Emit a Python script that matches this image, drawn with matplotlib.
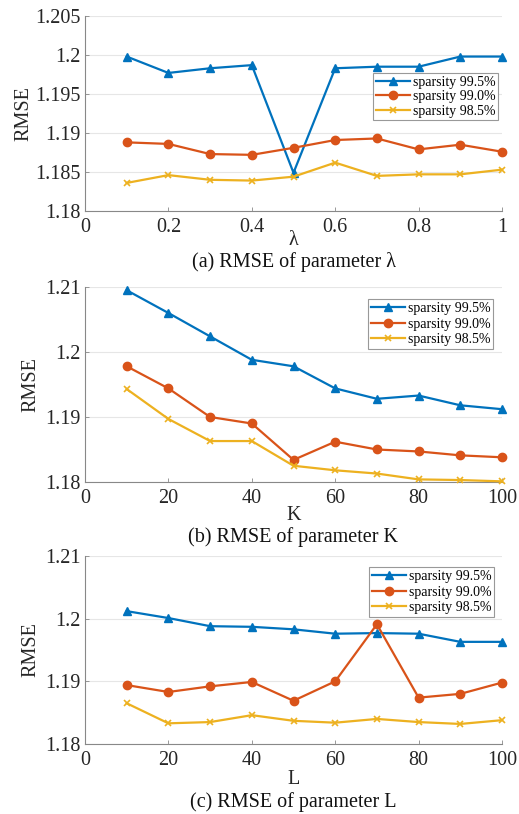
import matplotlib
matplotlib.use("Agg")
import matplotlib.pyplot as plt

plt.rcParams['font.family'] = ['Liberation Serif', 'DejaVu Serif']

labels = ['sparsity 99.5%', 'sparsity 99.0%', 'sparsity 98.5%']

lam = [0.1, 0.2, 0.3, 0.4, 0.5, 0.6, 0.7, 0.8, 0.9, 1.0]
lam_995 = [1.1998, 1.1977, 1.1983, 1.1987, 1.1849, 1.1983, 1.1985, 1.1985, 1.1998, 1.1998]
lam_990 = [1.1888, 1.1886, 1.1873, 1.1872, 1.1881, 1.1891, 1.1893, 1.1879, 1.1885, 1.1876]
lam_985 = [1.1836, 1.1846, 1.1840, 1.1839, 1.1844, 1.1862, 1.1845, 1.1847, 1.1847, 1.1853]

K = [10, 20, 30, 40, 50, 60, 70, 80, 90, 100]
K_995 = [1.2095, 1.2060, 1.2024, 1.1988, 1.1978, 1.1944, 1.1928, 1.1933, 1.1918, 1.1912]
K_990 = [1.1978, 1.1944, 1.1900, 1.1890, 1.1834, 1.1862, 1.1850, 1.1847, 1.1841, 1.1838]
K_985 = [1.1943, 1.1897, 1.1863, 1.1863, 1.1825, 1.1818, 1.1813, 1.1804, 1.1803, 1.1801]

L = [10, 20, 30, 40, 50, 60, 70, 80, 90, 100]
L_995 = [1.2012, 1.2001, 1.1988, 1.1987, 1.1983, 1.1976, 1.1977, 1.1976, 1.1963, 1.1963]
L_990 = [1.1894, 1.1883, 1.1892, 1.1899, 1.1869, 1.1900, 1.1991, 1.1874, 1.1880, 1.1898]
L_985 = [1.1865, 1.1833, 1.1835, 1.1846, 1.1837, 1.1834, 1.1840, 1.1835, 1.1832, 1.1838]

colors = ['#0072BD', '#D95319', '#EDB120']
markers = ['^', 'o', 'x']

W, H = 519, 814
fig = plt.figure(figsize=(W / 100, H / 100), dpi=100)

def rect(left, top, right, bottom):
    return [left / W, 1 - bottom / H, (right - left) / W, (bottom - top) / H]

panels = [
    dict(r=rect(85, 16, 502, 211), x=lam, ys=[lam_995, lam_990, lam_985],
         xlim=(0, 1), xticks=[0, 0.2, 0.4, 0.6, 0.8, 1], xtl=['0', '0.2', '0.4', '0.6', '0.8', '1'],
         ylim=(1.18, 1.205), yticks=[1.18, 1.185, 1.19, 1.195, 1.2, 1.205],
         ytl=['1.18', '1.185', '1.19', '1.195', '1.2', '1.205'],
         xlabel='λ', xl_y=241, cap='(a) RMSE of parameter λ', cap_y=262, yl_x=24,
         leg=(373, 73), ls=0.1),
    dict(r=rect(85, 287, 502, 482), x=K, ys=[K_995, K_990, K_985],
         xlim=(0, 100), xticks=[0, 20, 40, 60, 80, 100], xtl=['0', '20', '40', '60', '80', '100'],
         ylim=(1.18, 1.21), yticks=[1.18, 1.19, 1.2, 1.21],
         ytl=['1.18', '1.19', '1.2', '1.21'],
         xlabel='K', xl_y=516, cap='(b) RMSE of parameter K', cap_y=537, yl_x=31,
         leg=(368, 299), ls=0.2),
    dict(r=rect(85, 556, 502, 744), x=L, ys=[L_995, L_990, L_985],
         xlim=(0, 100), xticks=[0, 20, 40, 60, 80, 100], xtl=['0', '20', '40', '60', '80', '100'],
         ylim=(1.18, 1.21), yticks=[1.18, 1.19, 1.2, 1.21],
         ytl=['1.18', '1.19', '1.2', '1.21'],
         xlabel='L', xl_y=779, cap='(c) RMSE of parameter L', cap_y=802, yl_x=31,
         leg=(369, 567), ls=0.2),
]

for p in panels:
    ax = fig.add_axes(p['r'])
    axw, axh = p['r'][2] * W, p['r'][3] * H
    axl = p['r'][0] * W
    axt = (1 - p['r'][1] - p['r'][3]) * H
    for ys, c, m, lab in zip(p['ys'], colors, markers, labels):
        ms = 6 if m != 'x' else 5
        ax.plot(p['x'], ys, color=c, marker=m, markersize=ms, linewidth=1.6,
                markeredgewidth=1.2 if m == 'x' else 1.0, label=lab, clip_on=False, zorder=3)
    ax.set_xlim(*p['xlim'])
    ax.set_ylim(*p['ylim'])
    ax.set_xticks(p['xticks'])
    ax.set_xticklabels(p['xtl'])
    ax.set_yticks(p['yticks'])
    ax.set_yticklabels(p['ytl'])
    ax.tick_params(direction='in', length=3, width=0.6, color='#888888',
                   labelsize=14.5, labelcolor='#262626', pad=3)
    ax.tick_params(axis='x', pad=5)
    ax.grid(axis='y', color='#e6e6e6', linewidth=0.8, zorder=0)
    ax.set_axisbelow(True)
    for s in ['top', 'right']:
        ax.spines[s].set_visible(False)
    for s in ['left', 'bottom']:
        ax.spines[s].set_color('#888888')
        ax.spines[s].set_linewidth(0.8)
    ax.set_ylabel('RMSE', fontsize=14.5, color='#262626', va='center')
    ax.yaxis.set_label_coords((p['yl_x'] - axl) / axw, 0.5)
    fig.text(293.5 / W, 1 - p['xl_y'] / H, p['xlabel'], ha='center', va='center',
             fontsize=14.5, color='#262626')
    fig.text(293.5 / W, 1 - p['cap_y'] / H, p['cap'], ha='center', va='center',
             fontsize=14.5, color='#111111')
    l, t = p['leg']
    leg = ax.legend(loc='upper left', bbox_to_anchor=((l - axl) / axw, 1 - (t - axt) / axh),
                    fontsize=10, frameon=True, fancybox=False, borderpad=0.2,
                    labelspacing=p['ls'], handlelength=2.45, handletextpad=0.2,
                    borderaxespad=0.0, framealpha=1.0)
    leg.get_frame().set_edgecolor('#999999')
    leg.get_frame().set_linewidth(0.8)

fig.savefig('out.png', dpi=100)
